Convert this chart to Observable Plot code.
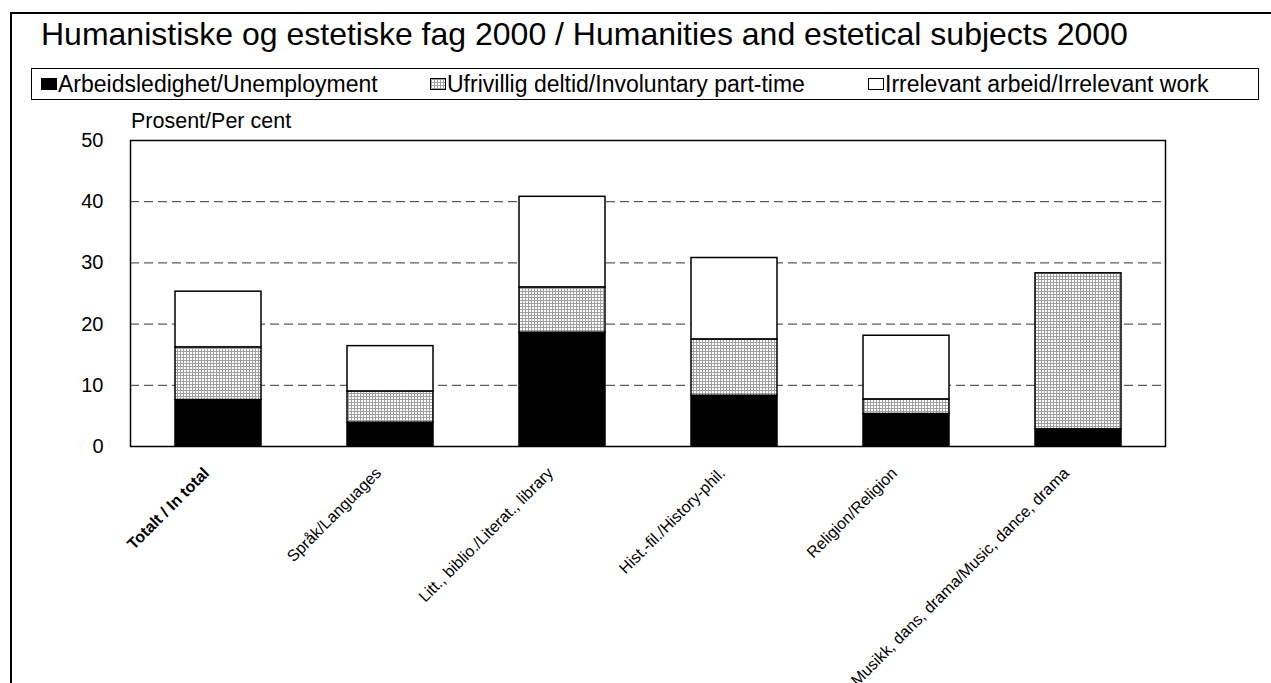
<!DOCTYPE html>
<html>
<head>
<meta charset="utf-8">
<script src="https://cdn.jsdelivr.net/npm/d3@7"></script>
<script src="https://cdn.jsdelivr.net/npm/@observablehq/plot@0.6"></script>
<style>
  html, body { margin: 0; padding: 0; background: #fff; }
  body { width: 1271px; height: 683px; position: relative; overflow: hidden;
         font-family: "Liberation Sans", Arial, sans-serif; color: #000; }
  #outer { position: absolute; left: 10px; top: 12px; width: 1400px; height: 800px;
           border-left: 2px solid #000; border-top: 2px solid #000; }
  #title { position: absolute; left: 41px; top: 16px; font-size: 32px; white-space: nowrap; z-index: 2; }
  #legend { position: absolute; left: 31px; top: 68px; width: 1226px; height: 30px;
            border: 1px solid #000; z-index: 2; }
  .item { position: absolute; top: 0; height: 30px; line-height: 30px; font-size: 23px; white-space: nowrap; }
  .sw { position: absolute; top: 9px; width: 16px; height: 12px; border: 1px solid #000; box-sizing: border-box; }
  #ylabel { position: absolute; left: 131px; top: 109px; font-size: 21.5px; white-space: nowrap; z-index: 2; }
  #chart { position: absolute; left: 0; top: 0; }
</style>
</head>
<body>
<div id="outer"></div>
<div id="title"></div>
<div id="legend"></div>
<div id="ylabel"></div>
<div id="chart"></div>
<script>
const title = "Humanistiske og estetiske fag 2000 / Humanities and estetical subjects 2000";
const yLabel = "Prosent/Per cent";
const categories = [
  "Totalt / In total",
  "Språk/Languages",
  "Litt., biblio./Literat., library",
  "Hist.-fil./History-phil.",
  "Religion/Religion",
  "Musikk, dans, drama/Music, dance, drama"
];
const seriesNames = [
  "Arbeidsledighet/Unemployment",
  "Ufrivillig deltid/Involuntary part-time",
  "Irrelevant arbeid/Irrelevant work"
];
const unemployment = [7.6, 3.9, 18.6, 8.3, 5.3, 2.8];
const involuntary  = [8.6, 5.1, 7.4, 9.2, 2.4, 25.5];
const irrelevant   = [9.1, 7.4, 14.8, 13.3, 10.4, 0];
const yTicks = [0, 10, 20, 30, 40, 50];
const gridTicks = [10, 20, 30, 40];

const seriesValues = [unemployment, involuntary, irrelevant];
const rows = [];
seriesValues.forEach((vals, si) => {
  vals.forEach((v, ci) => {
    if (v > 0) rows.push({category: categories[ci], series: seriesNames[si], value: v});
  });
});

const fills = ["#000", "url(#mesh)", "#fff"];
const legendFills = ["#000", "repeating-linear-gradient(0deg,#a0a0a0 0 1px,transparent 1px 3px),repeating-linear-gradient(90deg,#a0a0a0 0 1px,#fff 1px 3px)", "#fff"];

document.getElementById("title").textContent = title;
document.getElementById("ylabel").textContent = yLabel;
const legend = document.getElementById("legend");
const itemX = [9, 398, 836];
seriesNames.forEach((name, i) => {
  const it = document.createElement("div");
  it.className = "item";
  it.style.left = itemX[i] + "px";
  const sw = document.createElement("span");
  sw.className = "sw";
  sw.style.left = "0px";
  sw.style.background = legendFills[i];
  it.appendChild(sw);
  const tx = document.createElement("span");
  tx.style.marginLeft = "17px";
  tx.textContent = name;
  it.appendChild(tx);
  legend.appendChild(it);
});

const chart = Plot.plot({
  width: 1271,
  height: 683,
  marginLeft: 130,
  marginRight: 106,
  marginTop: 140,
  marginBottom: 237,
  style: {fontFamily: "'Liberation Sans', Arial, sans-serif", color: "#000", background: "transparent"},
  x: {domain: categories, paddingInner: 0.5, paddingOuter: 0.25, label: null},
  y: {domain: [0, 50], label: null},
  color: {domain: seriesNames, range: fills},
  marks: [
    Plot.ruleY(gridTicks, {stroke: "#333", strokeWidth: 1, strokeDasharray: "9,5"}),
    Plot.barY(rows, {x: "category", y: "value", fill: "series", stroke: "#000", strokeWidth: 1.5, order: seriesNames}),
    Plot.frame({stroke: "#000", strokeWidth: 1.5}),
    Plot.axisY({ticks: yTicks, tickSize: 0, tickPadding: 27, fontSize: 20, label: null}),
    Plot.axisX({ticks: categories.slice(0, 1), tickRotate: -45, tickSize: 0, tickPadding: 24, dx: -12, fontSize: 16, fontWeight: "bold", label: null}),
    Plot.axisX({ticks: categories.slice(1), tickRotate: -45, tickSize: 0, tickPadding: 24, dx: -12, fontSize: 16, label: null})
  ]
});

const ns = "http://www.w3.org/2000/svg";
const defs = document.createElementNS(ns, "defs");
const pat = document.createElementNS(ns, "pattern");
pat.setAttribute("id", "mesh");
pat.setAttribute("width", "3");
pat.setAttribute("height", "3");
pat.setAttribute("patternUnits", "userSpaceOnUse");
const bg = document.createElementNS(ns, "rect");
bg.setAttribute("width", "3"); bg.setAttribute("height", "3"); bg.setAttribute("fill", "#fff");
const ln = document.createElementNS(ns, "path");
ln.setAttribute("d", "M0 0.5H3M0.5 0V3");
ln.setAttribute("stroke", "#a0a0a0");
ln.setAttribute("stroke-width", "1");
pat.appendChild(bg); pat.appendChild(ln);
defs.appendChild(pat);
chart.insertBefore(defs, chart.firstChild);

document.getElementById("chart").appendChild(chart);
</script>
</body>
</html>
